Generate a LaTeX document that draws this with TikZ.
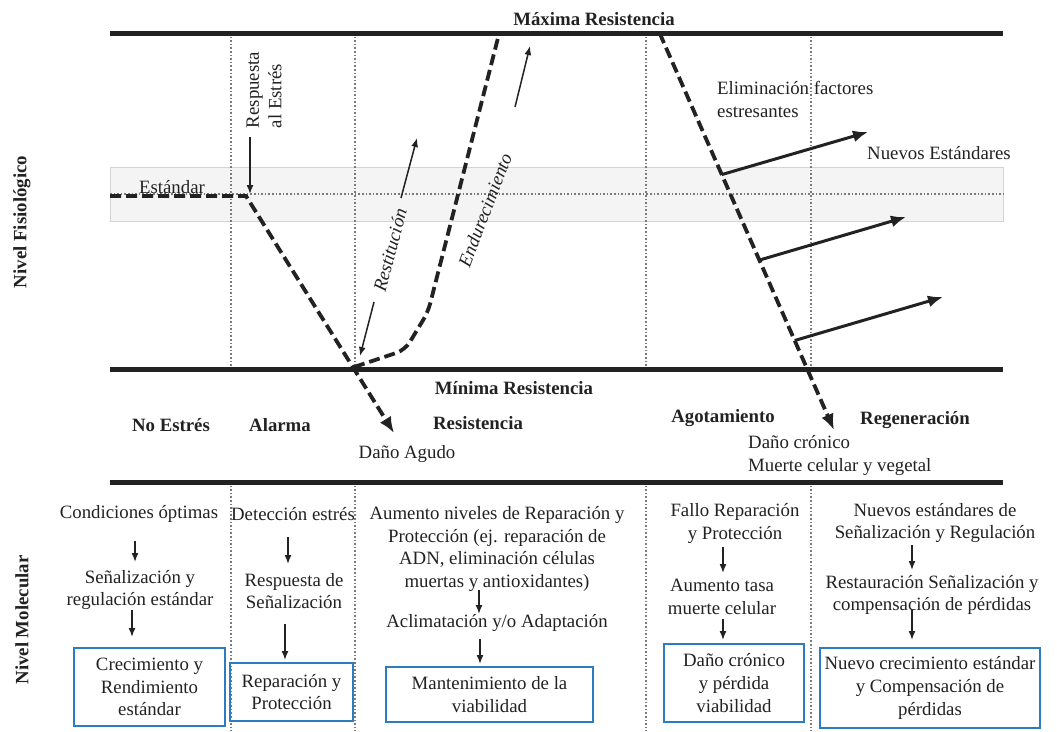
\documentclass[tikz,border=0pt]{standalone}
\usepackage{fontspec}
\setmainfont{Liberation Serif}
\usetikzlibrary{arrows.meta,calc}
\definecolor{ink}{HTML}{222222}
\definecolor{boxblue}{RGB}{45,125,190}
\definecolor{bandfill}{HTML}{F4F4F4}
\definecolor{bandedge}{HTML}{D4D4D4}
\definecolor{dotgray}{HTML}{7A7A7A}

\begin{document}
\begin{tikzpicture}[x=1pt,y=-1pt,
  txt/.style={font=\fontsize{18.8}{22.6}\selectfont, inner sep=0pt, align=center, text=ink},
  lbl/.style={txt, font=\fontsize{18.8}{22.6}\selectfont\bfseries},
  slant/.style={txt, font=\fontsize{18.8}{22.6}\selectfont\itshape},
  thickline/.style={draw=ink, line width=5pt},
  dotline/.style={draw=dotgray, line width=1.4pt, dash pattern=on 1.6pt off 2pt},
  dashpath/.style={draw=ink, line width=3.8pt, dash pattern=on 11pt off 5pt},
  bigarrow/.style={draw=ink, line width=3pt, -{Latex[length=15pt,width=12pt]}},
  thinarrow/.style={draw=ink, line width=1.5pt, -{Latex[length=9pt,width=7pt]}},
  molbox/.style={txt, draw=boxblue, line width=1.4pt}
]
\useasboundingbox (0,0) rectangle (1057,731);
\fill[white] (0,0) rectangle (1057,731);

% band of standard physiological level
\filldraw[fill=bandfill, draw=bandedge, line width=1pt] (110,167) rectangle (1003,221);
\draw[dotline] (110,194) -- (1003,194);

% phase separators
\foreach \xx in {231,355,646,811} {
  \draw[dotline] (\xx,33) -- (\xx,369);
  \draw[dotline] (\xx,482) -- (\xx,731);
}

% resistance limits and section divider
\draw[thickline] (110,33) -- (1003,33);
\draw[thickline] (110,369) -- (1003,369);
\draw[thickline] (110,482) -- (1003,482);

% key points of the resistance curve
\coordinate (s0) at (110,196);
\coordinate (s1) at (246,196);
\coordinate (dA) at (394,433);
\coordinate (m0) at (354,367);
\coordinate (e1) at (405,350);
\coordinate (e2) at (428,312);
\coordinate (t1) at (499,34);
\coordinate (t2) at (660,34);
\coordinate (dC) at (834,430);

\draw[dashpath, -{Latex[length=16pt,width=13pt]}] (s0) -- (s1) -- (dA);
\draw[dashpath, -{Latex[length=16pt,width=13pt]}]
  (m0) [rounded corners=9pt] -- (e1) -- (e2) [sharp corners] -- (t1) -- (t2) -- (dC);

% recovery towards new standards
\coordinate (b1s) at ($(t2)!0.355!(dC)$);
\coordinate (b2s) at ($(t2)!0.571!(dC)$);
\coordinate (b3s) at ($(t2)!0.774!(dC)$);
\coordinate (b1e) at (868,132);
\coordinate (b2e) at (906,217);
\coordinate (b3e) at (943,297);
\draw[bigarrow] (b1s) -- (b1e);
\draw[bigarrow] (b2s) -- (b2e);
\draw[bigarrow] (b3s) -- (b3e);

% small direction arrows
\coordinate (ra) at (250,137);
\coordinate (rb) at (250,194);
\draw[thinarrow] (ra) -- (rb);
\coordinate (ua) at (401,198);
\coordinate (ub) at (417,138);
\draw[thinarrow] (ua) -- (ub);
\coordinate (la) at (374,302);
\coordinate (lb) at (360,356);
\draw[thinarrow] (la) -- (lb);
\coordinate (ha) at (515,107);
\coordinate (hb) at (530,46);
\draw[thinarrow] (ha) -- (hb);

% labels of the physiological level
\node[lbl] (maxr) at (594,19) {Máxima Resistencia};
\node[lbl] (minr) at (514,388) {Mínima Resistencia};
\node[txt] (std) at (172,187) {Estándar};
\node[txt, rotate=90, align=left] (resp) at (264,90) {Respuesta\\al Estrés};
\node[slant, rotate=75] (rest) at (390,250) {Restitución};
\node[slant, rotate=69] (hard) at (485,210) {Endurecimiento};
\node[txt, align=left, anchor=west] (elim) at (717,99.5) {Eliminación factores\\estresantes};
\node[txt, anchor=west] (newstd) at (867,153) {Nuevos Estándares};

% phases
\node[lbl] (ph1) at (171,425) {No Estrés};
\node[lbl] (ph2) at (280,425) {Alarma};
\node[lbl] (ph3) at (478,423) {Resistencia};
\node[lbl] (ph4) at (723,418) {Agotamiento};
\node[lbl] (ph5) at (915,420) {Regeneración};
\node[txt] (acute) at (407,454) {Daño Agudo};
\node[txt, align=left, anchor=west] (chronic) at (748,455.5) {Daño crónico\\Muerte celular y vegetal};

% level titles
\node[lbl, rotate=90] (lvf) at (22,222) {Nivel Fisiológico};
\node[lbl, rotate=90] (lvm) at (22,620) {Nivel Molecular};

% molecular level, column 1
\node[txt] (c1a) at (139,514) {Condiciones óptimas};
\node[txt] (c1b) at (140,590) {Señalización y\\regulación estándar};
\node[molbox, minimum width=151pt, minimum height=78pt] (c1c) at (149.5,687) {Crecimiento y\\Rendimiento\\estándar};
\coordinate (k1a) at (135,541); \coordinate (k1b) at (135,562);
\coordinate (k1c) at (132,610); \coordinate (k1d) at (132,637);
\draw[thinarrow] (k1a) -- (k1b);
\draw[thinarrow] (k1c) -- (k1d);

% column 2
\node[txt] (c2a) at (293,514) {Detección estrés};
\node[txt] (c2b) at (294,591) {Respuesta de\\Señalización};
\node[molbox, minimum width=123pt, minimum height=58pt] (c2c) at (291.5,692) {Reparación y\\Protección};
\coordinate (k2a) at (288,537); \coordinate (k2b) at (288,564);
\coordinate (k2c) at (285,624); \coordinate (k2d) at (285,660);
\draw[thinarrow] (k2a) -- (k2b);
\draw[thinarrow] (k2c) -- (k2d);

% column 3
\node[txt] (c3a) at (497,549) {Aumento niveles de Reparación y\\Protección (ej. reparación de\\ADN, eliminación células\\muertas y antioxidantes)};
\node[txt] (c3b) at (497,623) {Aclimatación y/o Adaptación};
\node[molbox, minimum width=207pt, minimum height=55pt] (c3c) at (489.5,694.5) {Mantenimiento de la\\viabilidad};
\coordinate (k3a) at (479,590); \coordinate (k3b) at (479,614);
\coordinate (k3c) at (480,639); \coordinate (k3d) at (480,664);
\draw[thinarrow] (k3a) -- (k3b);
\draw[thinarrow] (k3c) -- (k3d);

% column 4
\node[txt] (c4a) at (735,523.5) {Fallo Reparación\\y Protección};
\node[txt] (c4b) at (722,597) {Aumento tasa\\muerte celular};
\node[molbox, minimum width=140pt, minimum height=78pt] (c4c) at (734,683) {Daño crónico\\y pérdida\\viabilidad};
\coordinate (k4a) at (723,547); \coordinate (k4b) at (723,573);
\coordinate (k4c) at (723,619); \coordinate (k4d) at (723,640);
\draw[thinarrow] (k4a) -- (k4b);
\draw[thinarrow] (k4c) -- (k4d);

% column 5
\node[txt] (c5a) at (935,523) {Nuevos estándares de\\Señalización y Regulación};
\node[txt] (c5b) at (932,595) {Restauración Señalización y\\compensación de pérdidas};
\node[molbox, minimum width=220pt, minimum height=80pt] (c5c) at (930,688) {Nuevo crecimiento estándar\\y Compensación de\\pérdidas};
\coordinate (k5a) at (912,545); \coordinate (k5b) at (912,570);
\coordinate (k5c) at (912,610); \coordinate (k5d) at (912,640);
\draw[thinarrow] (k5a) -- (k5b);
\draw[thinarrow] (k5c) -- (k5d);
\end{tikzpicture}
\end{document}
